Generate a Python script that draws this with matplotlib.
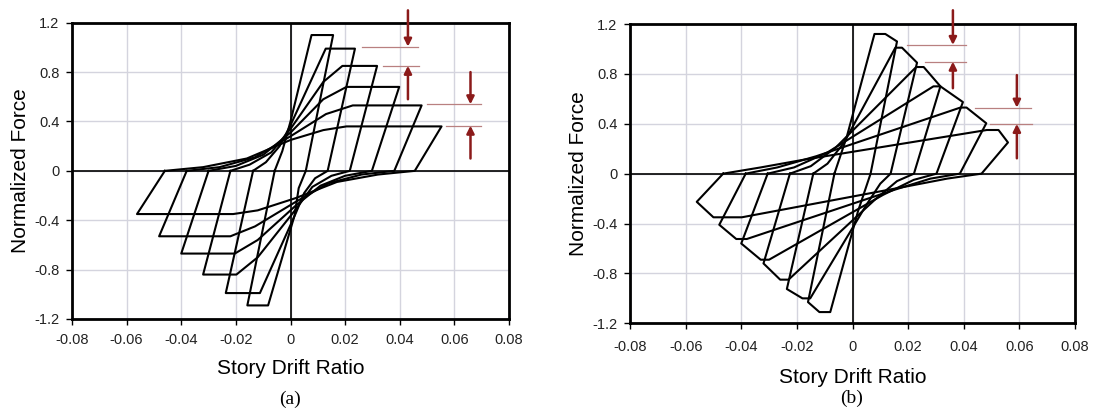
import numpy as np
import matplotlib
matplotlib.use("Agg")
import matplotlib.pyplot as plt

plt.rcParams['font.family'] = ['Liberation Sans', 'DejaVu Sans']

# ---- panel (a): hysteresis loops, vertices ----
a_loops_x = [
    [-0.0058, -0.003, 0.0, 0.0077, 0.0156, 0.0056, 0.003, 0.0015, -0.0082, -0.0158, -0.0058],
    [-0.0137, -0.009, -0.004, 0.0, 0.0129, 0.0236, 0.0136, 0.009, 0.005, 0.002, -0.0112, -0.0237, -0.0137],
    [-0.022, -0.015, -0.007, 0.0, 0.012, 0.019, 0.0317, 0.0217, 0.015, 0.008, 0.002, -0.012, -0.0198, -0.032, -0.022],
    [-0.030, -0.020, -0.010, 0.0, 0.012, 0.0205, 0.0398, 0.0298, 0.020, 0.011, 0.002, -0.012, -0.0204, -0.040, -0.030],
    [-0.038, -0.026, -0.013, 0.0, 0.013, 0.0228, 0.048, 0.038, 0.026, 0.014, 0.002, -0.013, -0.022, -0.0481, -0.038],
    [-0.046, -0.032, -0.016, 0.0, 0.012, 0.0205, 0.0553, 0.0455, 0.032, 0.017, 0.002, -0.012, -0.021, -0.0562, -0.046],
]
a_loops_y = [
    [0, 0.16, 0.40, 1.10, 1.10, 0, -0.14, -0.36, -1.09, -1.09, 0],
    [0, 0.07, 0.20, 0.37, 0.99, 0.99, 0, -0.06, -0.18, -0.34, -0.99, -0.99, 0],
    [0, 0.05, 0.15, 0.34, 0.72, 0.85, 0.85, 0, -0.04, -0.13, -0.31, -0.70, -0.84, -0.84, 0],
    [0, 0.04, 0.13, 0.31, 0.58, 0.68, 0.68, 0, -0.04, -0.12, -0.28, -0.56, -0.67, -0.67, 0],
    [0, 0.03, 0.11, 0.28, 0.46, 0.53, 0.53, 0, -0.03, -0.10, -0.25, -0.45, -0.53, -0.53, 0],
    [0, 0.03, 0.10, 0.25, 0.33, 0.36, 0.36, 0, -0.03, -0.09, -0.22, -0.32, -0.35, -0.35, 0],
]

# ---- panel (b): loops with post-peak softening ----
b_loops_x = [
    [-0.0065, -0.002, 0.0079, 0.0118, 0.016, 0.0065, 0.002, -0.008, -0.0119, -0.016, -0.0065],
    [-0.0141, -0.009, -0.003, 0.0154, 0.0178, 0.0232, 0.0137, 0.010, 0.005, -0.0152, -0.018, -0.0236, -0.0141],
    [-0.0225, -0.015, -0.006, 0.0229, 0.0256, 0.0316, 0.0221, 0.016, 0.008, -0.023, -0.026, -0.032, -0.0225],
    [-0.0305, -0.021, -0.009, 0.0291, 0.0316, 0.0397, 0.0302, 0.022, 0.011, -0.030, -0.033, -0.040, -0.0305],
    [-0.0384, -0.027, -0.013, 0.0388, 0.041, 0.0481, 0.0386, 0.028, 0.015, -0.038, -0.0418, -0.0479, -0.0384],
    [-0.0465, -0.033, -0.018, 0.0483, 0.0525, 0.0559, 0.0464, 0.034, 0.020, -0.0398, -0.050, -0.056, -0.0465],
]
b_loops_y = [
    [0, 0.30, 1.12, 1.12, 1.06, 0, -0.30, -1.11, -1.11, -1.03, 0],
    [0, 0.08, 0.25, 1.01, 1.01, 0.89, 0, -0.08, -0.25, -1.00, -1.00, -0.925, 0],
    [0, 0.06, 0.21, 0.855, 0.855, 0.70, 0, -0.06, -0.21, -0.85, -0.85, -0.72, 0],
    [0, 0.05, 0.17, 0.70, 0.70, 0.574, 0, -0.05, -0.17, -0.69, -0.69, -0.56, 0],
    [0, 0.05, 0.14, 0.53, 0.53, 0.404, 0, -0.04, -0.13, -0.524, -0.524, -0.41, 0],
    [0, 0.05, 0.11, 0.35, 0.35, 0.25, 0, -0.04, -0.10, -0.35, -0.35, -0.226, 0],
]

# reference lines (x0, x1, y) and arrows (x, y_from, y_to)
a_ref_lines = [(0.026, 0.0467, 1.006), (0.034, 0.047, 0.851), (0.0498, 0.0696, 0.539), (0.057, 0.0696, 0.366)]
a_arrows = [(0.043, 1.30, 1.006), (0.043, 0.58, 0.851), (0.0659, 0.80, 0.539), (0.0659, 0.10, 0.366)]
b_ref_lines = [(0.0196, 0.0409, 1.032), (0.0262, 0.0409, 0.898), (0.0439, 0.064, 0.529), (0.0495, 0.0645, 0.399)]
b_arrows = [(0.0361, 1.31, 1.032), (0.0361, 0.685, 0.898), (0.0591, 0.79, 0.529), (0.0591, 0.123, 0.399)]

x_ticks = [-0.08, -0.06, -0.04, -0.02, 0, 0.02, 0.04, 0.06, 0.08]
x_ticklabels = ['-0.08', '-0.06', '-0.04', '-0.02', '0', '0.02', '0.04', '0.06', '0.08']
y_ticks = [-1.2, -0.8, -0.4, 0, 0.4, 0.8, 1.2]
y_ticklabels = ['-1.2', '-0.8', '-0.4', '0', '0.4', '0.8', '1.2']

arrow_col = '#8b1a1a'
ref_col = '#b98080'
grid_col = '#d4d4de'

fig = plt.figure(figsize=(11, 4.17), dpi=100)
ax_a = fig.add_axes([72/1100, 1 - 319/417, 437/1100, 296.3/417])
ax_b = fig.add_axes([630/1100, 1 - 323.3/417, 445/1100, 299.3/417])


def draw_panel(ax, loops_x, loops_y, ref_lines, arrows, xpad, xlabpad):
    ax.set_xlim(-0.08, 0.08)
    ax.set_ylim(-1.2, 1.2)
    ax.set_xticks(x_ticks)
    ax.set_xticklabels(x_ticklabels)
    ax.set_yticks(y_ticks)
    ax.set_yticklabels(y_ticklabels)
    ax.grid(True, color=grid_col, lw=1.0)
    ax.set_axisbelow(True)
    ax.axhline(0, color='black', lw=1.2, zorder=2)
    ax.axvline(0, color='black', lw=1.2, zorder=2)
    for xs, ys in zip(loops_x, loops_y):
        ax.plot(xs, ys, color='black', lw=1.5, solid_joinstyle='round', zorder=3)
    for x0, x1, y in ref_lines:
        ax.plot([x0, x1], [y, y], color=ref_col, lw=0.9, zorder=4)
    for x, y0, y1 in arrows:
        ax.annotate('', xy=(x, y1), xytext=(x, y0),
                    arrowprops=dict(arrowstyle='-|>', color=arrow_col, lw=1.8,
                                    mutation_scale=11, shrinkA=0, shrinkB=0),
                    annotation_clip=False, zorder=5)
    for sp in ax.spines.values():
        sp.set_linewidth(2.0)
    ax.tick_params(direction='out', length=4, width=1, labelsize=10.5,
                   labelcolor='#222222', pad=5)
    ax.tick_params(axis='x', pad=xpad)
    ax.set_xlabel('Story Drift Ratio', fontsize=15, labelpad=xlabpad)
    ax.set_ylabel('Normalized Force', fontsize=15, labelpad=3)


draw_panel(ax_a, a_loops_x, a_loops_y, a_ref_lines, a_arrows, 6, 9)
draw_panel(ax_b, b_loops_x, b_loops_y, b_ref_lines, b_arrows, 8, 10)

fig.text(290/1100, 1 - 399/417, '(a)', ha='center', va='center',
         fontsize=14, family=['Liberation Serif', 'DejaVu Serif'])
fig.text(852/1100, 1 - 398/417, '(b)', ha='center', va='center',
         fontsize=14, family=['Liberation Serif', 'DejaVu Serif'])

fig.savefig('out.png', dpi=100, facecolor='white')
